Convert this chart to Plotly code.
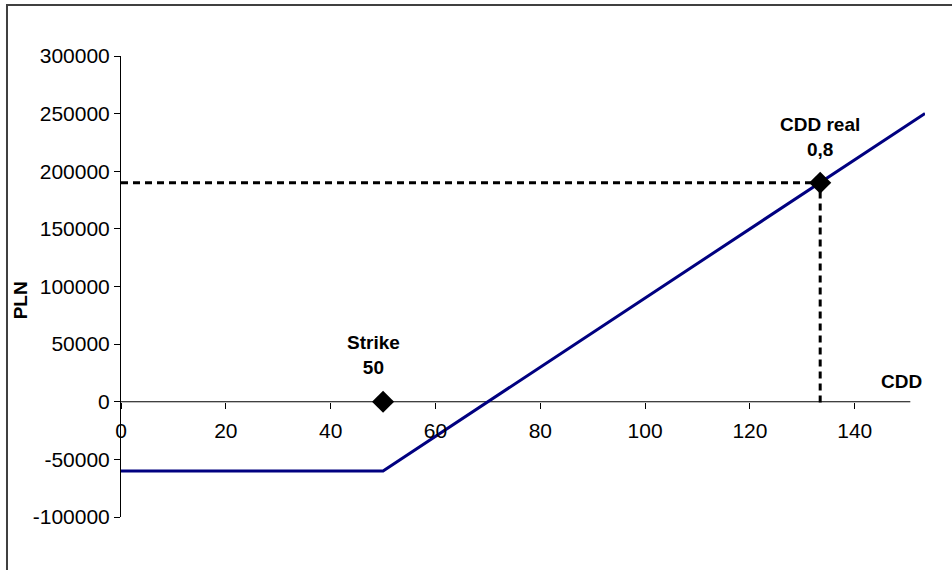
import plotly.graph_objects as go

# Payoff line (CDD vs PLN)
cdd = [0, 50, 153.4]
pln = [-60000, -60000, 250200]

# Marked points
strike_x, strike_y = 50, 0
real_x, real_y = 133.4, 190000

x_ticks = [0, 20, 40, 60, 80, 100, 120, 140]
y_ticks = [-100000, -50000, 0, 50000, 100000, 150000, 200000, 250000, 300000]

FONT = "Liberation Sans, Arial, sans-serif"

fig = go.Figure()

# dashed guide lines to CDD real point
fig.add_trace(go.Scatter(
    x=[0, real_x, real_x], y=[real_y, real_y, -2000],
    mode="lines", line=dict(color="black", width=3, dash="7px,5px"),
    hoverinfo="skip", showlegend=False))

fig.add_trace(go.Scatter(
    x=cdd, y=pln, mode="lines",
    line=dict(color="#000080", width=3),
    showlegend=False))

fig.add_trace(go.Scatter(
    x=[strike_x, real_x], y=[strike_y, real_y], mode="markers",
    marker=dict(symbol="diamond", size=17, color="black"),
    cliponaxis=False, showlegend=False))

fig.update_layout(
    width=952, height=570,
    margin=dict(l=121, r=27, t=56, b=53),
    paper_bgcolor="white", plot_bgcolor="white",
    font=dict(family=FONT, size=21, color="black"),
    xaxis=dict(
        range=[0, 153.4], showgrid=False, zeroline=False, showline=False,
        tickvals=x_ticks, ticktext=[str(v) for v in x_ticks],
        ticks="outside", ticklen=6, tickcolor="black", tickwidth=1,
        anchor="free", position=0.25, ticklabelstandoff=4,
        tickfont=dict(family=FONT, size=21, color="black"),
    ),
    yaxis=dict(
        range=[-100000, 300000], showgrid=False, zeroline=False,
        showline=True, linecolor="black", linewidth=1,
        tickvals=y_ticks, ticktext=[str(v) for v in y_ticks],
        ticks="outside", ticklen=6, tickcolor="black", tickwidth=1,
        tickfont=dict(family=FONT, size=21, color="black"),
    ),
    shapes=[
        dict(type="line", xref="x", yref="y", x0=0, x1=150.6, y0=0, y1=0,
             line=dict(color="black", width=1), layer="below"),
        dict(type="rect", xref="paper", yref="paper",
             x0=-0.1418, x1=1.05, y0=-0.15, y1=1.1106,
             line=dict(color="#404040", width=2)),
    ],
    annotations=[
        dict(x=strike_x, y=strike_y, xref="x", yref="y", text="<b>Strike<br>50</b>",
             showarrow=False, yanchor="bottom", xshift=-10, yshift=22,
             font=dict(family=FONT, size=19, color="black")),
        dict(x=real_x, y=real_y, xref="x", yref="y", text="<b>CDD real<br>0,8</b>",
             showarrow=False, yanchor="bottom", yshift=21,
             font=dict(family=FONT, size=19, color="black")),
        dict(x=148.9, y=18000, xref="x", yref="y", text="<b>CDD</b>",
             showarrow=False, font=dict(family=FONT, size=19, color="black")),
        dict(x=-0.1256, y=0.47, xref="paper", yref="paper", text="<b>PLN</b>",
             textangle=-90, showarrow=False, xanchor="center", yanchor="middle",
             font=dict(family=FONT, size=19, color="black")),
    ],
)

fig.write_html("out.html")
